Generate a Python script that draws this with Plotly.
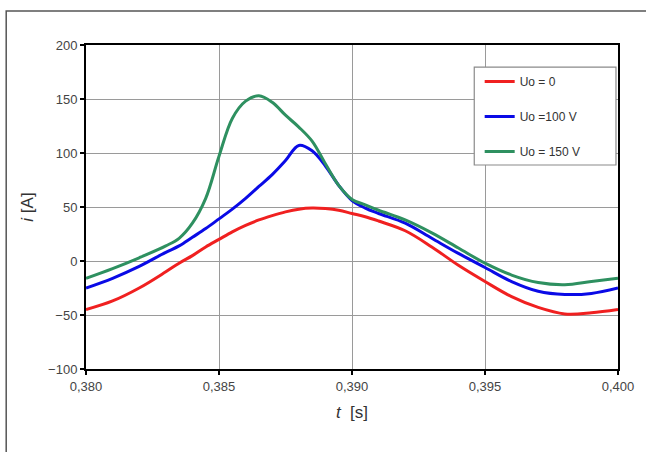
import plotly.graph_objects as go

t = [0.380, 0.381, 0.382, 0.383, 0.3835, 0.384, 0.3845, 0.385, 0.3855, 0.386,
     0.3865, 0.387, 0.3875, 0.388, 0.3885, 0.389, 0.3895, 0.390, 0.3905, 0.391,
     0.392, 0.393, 0.394, 0.395, 0.396, 0.397, 0.398, 0.399, 0.400]
i_u0 = [-45, -37, -25, -10, -2, 5, 13, 20, 27, 33,
        38, 42, 45.5, 48, 49, 48.5, 47, 44, 41, 37,
        28, 13, -4, -19, -33, -43, -49, -48, -45]
i_u100 = [-25, -16, -5, 8, 14, 22, 30, 39, 48, 58,
          69, 80, 93, 107, 102, 88, 70, 56, 49, 44,
          35, 21, 7, -6, -19, -28, -31, -30, -25]
i_u150 = [-16, -7, 3, 14, 21, 35, 58, 97, 132, 148,
          153, 147, 135, 124, 111, 90, 70, 57, 52, 47,
          38, 26, 12, -2, -13, -20, -22, -19, -16]
names = ["Uo = 0", "Uo =100 V", "Uo = 150 V"]
colors = ["#f02020", "#0a0ae6", "#2e9060"]

x_ticks = [0.380, 0.385, 0.390, 0.395, 0.400]
y_ticks = [-100, -50, 0, 50, 100, 150, 200]

fig = go.Figure()
for name, ys, c in zip(names, [i_u0, i_u100, i_u150], colors):
    fig.add_trace(go.Scatter(x=t, y=ys, mode="lines", name=name, legendgroup=name,
                             line=dict(color=c, width=3, shape="spline", smoothing=1.0)))

axis_common = dict(showline=True, linecolor="black", linewidth=2, mirror=True,
                   showgrid=True, gridcolor="#9a9a9a", gridwidth=1,
                   ticks="outside", ticklen=4, tickcolor="black", tickwidth=1.5,
                   tickfont=dict(family="Liberation Sans, Arial", size=13, color="#444"),
                   zeroline=False)

fig.update_layout(
    width=646, height=452,
    margin=dict(l=86, r=26, t=45, b=83),
    paper_bgcolor="white", plot_bgcolor="white",
    separators=", ",
    font=dict(family="Liberation Sans, Arial", color="#333"),
    xaxis=dict(range=[0.380, 0.400], tickvals=x_ticks, tickformat=".3f",
               title=dict(text="<i>t</i>  [s]", font=dict(size=17, color="#333"), standoff=14),
               **axis_common),
    yaxis=dict(range=[-100, 200], tickvals=y_ticks,
               title=dict(text="<i>i</i> [A]", font=dict(size=17, color="#333"), standoff=10),
               **axis_common),
    legend=dict(x=0.740, y=0.932, xanchor="left", yanchor="top",
                bgcolor="rgba(0,0,0,0)", borderwidth=0,
                font=dict(family="Liberation Sans, Arial", size=12, color="#333"),
                tracegroupgap=16),
    showlegend=True,
)

# outer chart frame
fig.add_shape(type="rect", xref="paper", yref="paper",
              x0=-0.150, x1=1.2, y0=-0.4, y1=1.105,
              line=dict(color="#555", width=1.5), fillcolor="rgba(0,0,0,0)", layer="below")
# legend box
fig.add_shape(type="rect", xref="paper", yref="paper",
              x0=0.7298, x1=0.9962, y0=0.6296, y1=0.932,
              line=dict(color="#8a8a8a", width=1.2), fillcolor="white", layer="above")

fig.write_html("out.html", config={"displayModeBar": False},
               post_script="document.body.style.margin='0';"
               "document.body.style.padding='0';")
